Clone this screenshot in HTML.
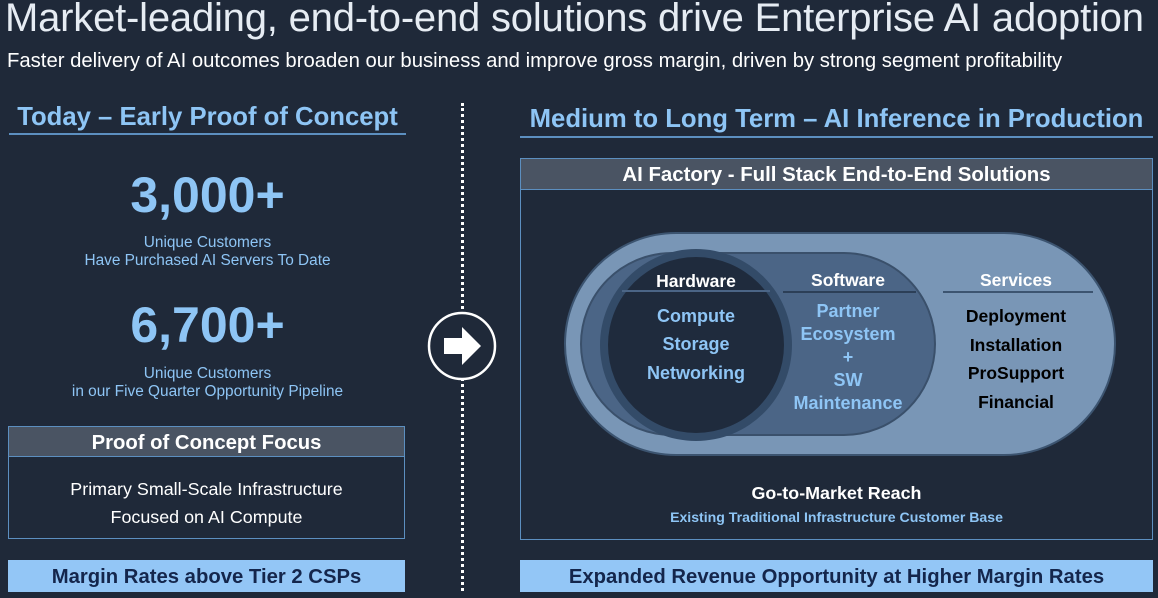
<!DOCTYPE html>
<html><head><style>
body{margin:0;width:1158px;height:598px;background:#1f2939;font-family:"Liberation Sans",sans-serif;position:relative;overflow:hidden}
.a{position:absolute;white-space:nowrap}
.c{text-align:center}
.b{font-weight:bold}
.lb{color:#8ec5f5}
</style></head><body>
<div class="a" style="left:5px;top:-4px;font-size:40px;color:#e6ecf3;letter-spacing:-0.2px">Market-leading, end-to-end solutions drive Enterprise AI adoption</div>
<div class="a" style="left:7px;top:50px;font-size:20.3px;color:#fff">Faster delivery of AI outcomes broaden our business and improve gross margin, driven by strong segment profitability</div>

<div class="a c b lb" style="left:9px;width:397px;top:103px;font-size:25.7px">Today – Early Proof of Concept</div>
<div class="a" style="left:9px;width:397px;top:133px;height:2px;background:#5c8fc0"></div>
<div class="a c b lb" style="left:9px;width:397px;top:166px;font-size:50px">3,000+</div>
<div class="a c lb" style="left:9px;width:397px;top:234px;font-size:15.4px;line-height:18px">Unique Customers<br>Have Purchased AI Servers To Date</div>
<div class="a c b lb" style="left:9px;width:397px;top:296px;font-size:50px">6,700+</div>
<div class="a c lb" style="left:9px;width:397px;top:365px;font-size:15.4px;line-height:18px">Unique Customers<br>in our Five Quarter Opportunity Pipeline</div>

<div class="a" style="left:8px;top:426px;width:397px;height:113px;border:1px solid #5c8fc0;box-sizing:border-box"></div>
<div class="a c b" style="left:8px;top:426px;width:397px;height:31px;line-height:32px;background:#4a5463;color:#fff;font-size:20.3px;border:1px solid #5c8fc0;box-sizing:border-box">Proof of Concept Focus</div>
<div class="a c" style="left:8px;width:397px;top:475px;font-size:17.9px;line-height:28px;color:#fff">Primary Small-Scale Infrastructure<br>Focused on AI Compute</div>
<div class="a c b" style="left:8px;top:560px;width:397px;height:32px;line-height:35px;background:#93c6f6;color:#14264c;font-size:20.3px">Margin Rates above Tier 2 CSPs</div>

<div class="a" style="left:461px;top:103px;height:488px;border-left:3px dotted #fff"></div>
<svg class="a" style="left:426px;top:310px" width="72" height="72"><circle cx="36" cy="36" r="33" fill="#1f2939" stroke="#fff" stroke-width="2.5"/><polygon points="18,28 36,28 36,17 55,36 36,55 36,44 18,44" fill="#fff"/></svg>

<div class="a c b lb" style="left:520px;width:633px;top:105px;font-size:25.7px">Medium to Long Term – AI Inference in Production</div>
<div class="a" style="left:520px;width:633px;top:136px;height:2px;background:#5c8fc0"></div>

<div class="a" style="left:520px;top:158px;width:633px;height:382px;border:1px solid #5c8fc0;box-sizing:border-box"></div>
<div class="a c b" style="left:520px;top:158px;width:633px;height:32px;line-height:32px;background:#4a5463;color:#fff;font-size:20.4px;border:1px solid #5c8fc0;box-sizing:border-box">AI Factory - Full Stack End-to-End Solutions</div>

<svg class="a" style="left:520px;top:190px" width="633" height="300">
<rect x="45" y="43" width="550" height="222" rx="111" fill="#7996b6" stroke="#3c5470" stroke-width="2"/>
<rect x="61" y="63" width="354" height="182" rx="91" fill="#4b6586" stroke="#3a506b" stroke-width="2"/>
<circle cx="176" cy="155" r="96" fill="#334b68"/>
<circle cx="176" cy="155" r="88" fill="#1f2b3d"/>
<line x1="102" y1="101" x2="250" y2="101" stroke="#4b6586" stroke-width="2"/>
<line x1="263" y1="102" x2="396" y2="102" stroke="#2c3f57" stroke-width="2"/>
<line x1="423" y1="102" x2="573" y2="102" stroke="#3c5470" stroke-width="2"/>
</svg>
<div class="a c b" style="left:620px;width:152px;top:271px;font-size:17.5px;color:#fff">Hardware</div>
<div class="a c b" style="left:772px;width:152px;top:270px;font-size:17.5px;color:#fff">Software</div>
<div class="a c b" style="left:940px;width:152px;top:270px;font-size:17.5px;color:#fff">Services</div>
<div class="a c b lb" style="left:620px;width:152px;top:302px;font-size:18px;line-height:28.3px">Compute<br>Storage<br>Networking</div>
<div class="a c b lb" style="left:772px;width:152px;top:300px;font-size:18px;line-height:23px">Partner<br>Ecosystem<br>+<br>SW<br>Maintenance</div>
<div class="a c b" style="left:940px;width:152px;top:302px;font-size:17.5px;line-height:28.5px;color:#000">Deployment<br>Installation<br>ProSupport<br>Financial</div>
<div class="a c b" style="left:520px;width:633px;top:483px;font-size:17.9px;color:#fff">Go-to-Market Reach</div>
<div class="a c b lb" style="left:520px;width:633px;top:509px;font-size:14.1px">Existing Traditional Infrastructure Customer Base</div>

<div class="a c b" style="left:520px;top:560px;width:633px;height:32px;line-height:35px;background:#93c6f6;color:#14264c;font-size:20.3px">Expanded Revenue Opportunity at Higher Margin Rates</div>
</body></html>
